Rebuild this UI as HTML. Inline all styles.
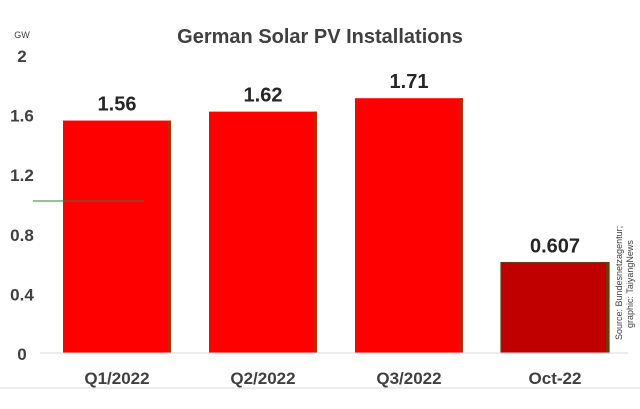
<!DOCTYPE html>
<html><head><meta charset="utf-8"><style>
html,body{margin:0;padding:0;background:#fff;}
svg{display:block;font-family:"Liberation Sans",sans-serif;}
</style></head><body>
<svg id="chart" width="640" height="409">
<text x="320" y="43" text-anchor="middle" font-size="20" font-weight="bold" fill="#404040">German Solar PV Installations</text>
<text x="22" y="38" text-anchor="middle" font-size="9" fill="#404040">GW</text>
<g id="yticks"></g>
<g id="bars"></g>
<line x1="40" y1="353" x2="628" y2="353" stroke="#d9d9d9" stroke-width="1"/>
<line x1="0" y1="388" x2="640" y2="388" stroke="#d9d9d9" stroke-width="1"/>
<text transform="translate(622,340) rotate(-90)" font-size="9" fill="#404040"><tspan x="0" y="0">Source: Bundesnetzagentur;</tspan><tspan x="12" y="11">graphic: TaiyangNews</tspan></text>
</svg>
<script>
const categories = ["Q1/2022","Q2/2022","Q3/2022","Oct-22"];
const values = [1.56,1.62,1.71,0.607];
const valueLabels = ["1.56","1.62","1.71","0.607"];
const tickValues = [0,0.4,0.8,1.2,1.6,2];
const tickLabels = ["0","0.4","0.8","1.2","1.6","2"];
const NS="http://www.w3.org/2000/svg";
const y0=353, yTop=55, vMax=2;
function y(v){return y0-(v/vMax)*(y0-yTop);}
function xc(i){return 117+i*146;}
const yt=document.getElementById('yticks');
tickValues.forEach((v,i)=>{
  const t=document.createElementNS(NS,'text');
  
  
  t.setAttribute('x',22);t.setAttribute('y',y(v)+7);
  t.setAttribute('text-anchor','middle');t.setAttribute('font-size','17');
  t.setAttribute('font-weight','bold');t.setAttribute('fill','#404040');
  t.textContent=tickLabels[i];yt.appendChild(t);
});
const g=document.getElementById('bars');
const bw=108;
values.forEach((v,i)=>{
  const last=i===values.length-1;
  const r=document.createElementNS(NS,'rect');
  
  
  r.setAttribute('x',xc(i)-bw/2);r.setAttribute('y',y(v));
  r.setAttribute('width',bw);r.setAttribute('height',y0-y(v));
  r.setAttribute('fill',last?'#c00000':'#ff0000');
  if(last){r.setAttribute('stroke','#6b3a10');r.setAttribute('stroke-width','1.2');}
  g.appendChild(r);
  const e=document.createElementNS(NS,'rect');
  
  
  e.setAttribute('x',xc(i)+bw/2-3);e.setAttribute('y',y(v));
  e.setAttribute('width',3);e.setAttribute('height',y0-y(v));
  e.setAttribute('fill',last?'#6b3a10':'#b52a10');
  g.appendChild(e);
  const l=document.createElementNS(NS,'text');
  
  
  l.setAttribute('x',xc(i));l.setAttribute('y',y(v)-10);
  l.setAttribute('text-anchor','middle');l.setAttribute('font-size','20');
  l.setAttribute('font-weight','bold');l.setAttribute('fill','#262626');
  l.textContent=valueLabels[i];g.appendChild(l);
  const c=document.createElementNS(NS,'text');
  
  
  c.setAttribute('x',xc(i));c.setAttribute('y',384);
  c.setAttribute('text-anchor','middle');c.setAttribute('font-size','17');
  c.setAttribute('font-weight','bold');c.setAttribute('fill','#404040');
  c.textContent=categories[i];g.appendChild(c);
});
const ln=document.createElementNS(NS,'line');


ln.setAttribute('x1',33);ln.setAttribute('y1',201);ln.setAttribute('x2',144);ln.setAttribute('y2',201);
ln.setAttribute('stroke','#3a7a3a');ln.setAttribute('stroke-width','1');
g.appendChild(ln);
</script>
</body></html>
